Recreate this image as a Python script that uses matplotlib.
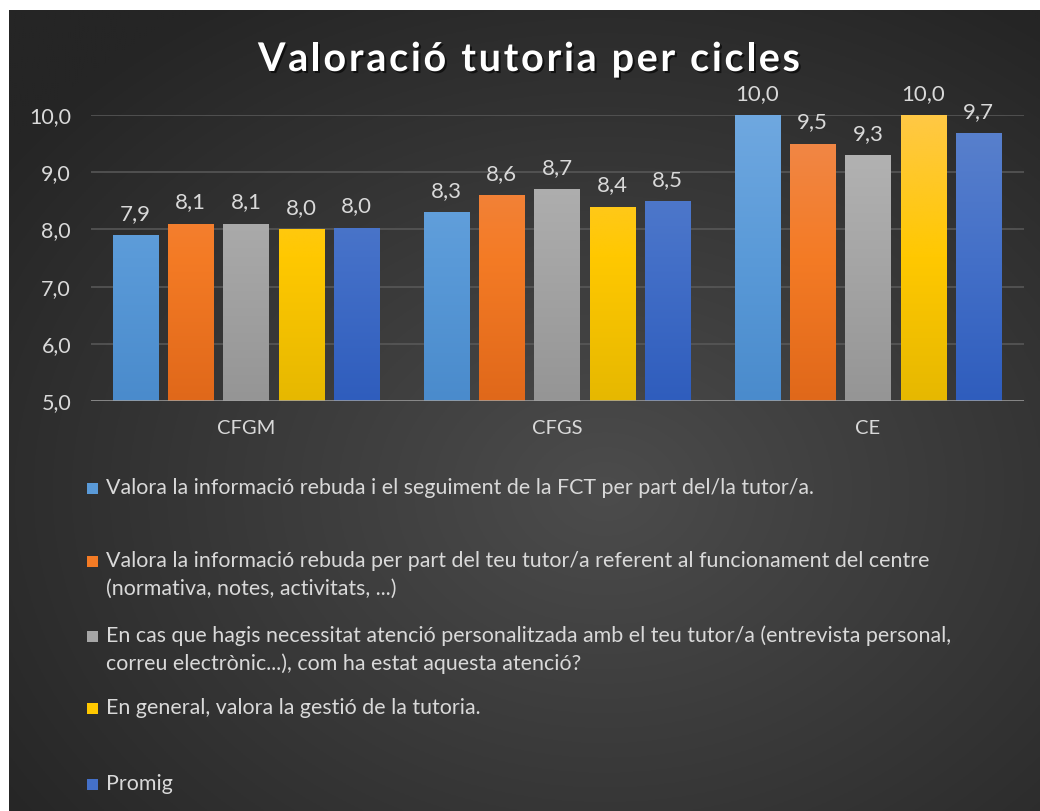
import numpy as np
import matplotlib
matplotlib.use("Agg")
import matplotlib.pyplot as plt
import matplotlib.patheffects as pe
from matplotlib.patches import Rectangle
from matplotlib.colors import LinearSegmentedColormap

# ---------------- data ----------------
categories = ["CFGM", "CFGS", "CE"]
series_names = [
    "Valora la informació rebuda i el seguiment de la FCT per part del/la tutor/a.",
    "Valora la informació rebuda per part del teu tutor/a referent al funcionament del centre\n(normativa, notes, activitats, ...)",
    "En cas que hagis necessitat atenció personalitzada amb el teu tutor/a (entrevista personal,\ncorreu electrònic...), com ha estat aquesta atenció?",
    "En general, valora la gestió de la tutoria.",
    "Promig",
]
info_fct = [7.9, 8.3, 10.0]
info_centre = [8.1, 8.6, 9.5]
atencio = [8.1, 8.7, 9.3]
gestio = [8.0, 8.4, 10.0]
promig = [8.03, 8.5, 9.68]
values = [info_fct, info_centre, atencio, gestio, promig]
yticks = [5, 6, 7, 8, 9, 10]
title = "Valoració tutoria per cicles"

# ---------------- style ----------------
grad_colors = [
    ("#6fa8e0", "#5a9ad8", "#4a8bcc"),
    ("#f0894d", "#f47b25", "#e0681a"),
    ("#b6b6b6", "#a6a6a6", "#959595"),
    ("#ffc845", "#ffc800", "#e6b800"),
    ("#5b82cd", "#4470c8", "#2f5dbd"),
]
txt_col = "#d9d9d9"
FONT = "Lato"

W, H = 1040, 811
fig = plt.figure(figsize=(W / 100, H / 100), dpi=100, facecolor="white")

def px(x, y):
    return x / W, 1 - y / H

# background with radial gradient
bg = fig.add_axes([9 / W, 0, (W - 9) / W, (H - 10) / H], zorder=-10)
bg.set_axis_off()
yy, xx = np.mgrid[0:400, 0:520]
cx, cy = 300, 240
r = np.sqrt(((xx - cx) / 520) ** 2 + ((yy - cy) / 400) ** 2)
r = np.clip(r / 0.72, 0, 1)
c0 = np.array([0x4c, 0x4c, 0x4c]) / 255
c1 = np.array([0x25, 0x25, 0x25]) / 255
img = c0[None, None, :] * (1 - r[..., None]) + c1[None, None, :] * r[..., None]
bg.imshow(img, aspect="auto", extent=[0, 1, 0, 1], origin="upper")
bg.set_xlim(0, 1); bg.set_ylim(0, 1)

# main axes
left, right, top, bottom = 90.5, 1023.5, 115, 401
ax = fig.add_axes([left / W, 1 - bottom / H, (right - left) / W, (bottom - top) / H])
ax.patch.set_alpha(0)
for s in ax.spines.values():
    s.set_visible(False)

n = len(values)
width = 0.145
pitch = 0.178
x = np.arange(len(categories))
for i, (vals, cols) in enumerate(zip(values, grad_colors)):
    offs = (i - (n - 1) / 2) * pitch
    bars = ax.bar(x + offs, np.array(vals) - 5, width=width, bottom=5,
                  color=cols[1], zorder=3, linewidth=0)
    cmap = LinearSegmentedColormap.from_list(f"g{i}", [cols[2], cols[1], cols[0]])
    for b, v in zip(bars, vals):
        bx, by = b.get_x(), b.get_y()
        bw, bh = b.get_width(), b.get_height()
        grad = np.linspace(1, 0, 256).reshape(-1, 1)
        im = ax.imshow(grad, cmap=cmap, aspect="auto",
                       extent=[bx, bx + bw, 5, 10], origin="upper", zorder=4,
                       vmin=0, vmax=1)
        im.set_clip_path(b)
        lab = f"{v:.1f}".replace(".", ",")
        ax.annotate(lab, (bx + bw / 2, by + bh), xytext=(0, 8),
                    textcoords="offset points", ha="center", va="bottom",
                    color=txt_col, fontsize=16, family=FONT, zorder=5)

ax.set_xlim(-0.5, len(categories) - 0.5)
ax.set_ylim(5, 10)
ax.set_yticks(yticks)
ax.set_yticklabels([f"{t:.1f}".replace(".", ",") for t in yticks],
                   color=txt_col, fontsize=15.5, family=FONT)
ax.set_xticks(x)
ax.set_xticklabels(categories, color=txt_col, fontsize=14.5, family=FONT)
ax.tick_params(axis="y", length=0, pad=14)
ax.tick_params(axis="x", length=0, pad=14)
for t in yticks[1:]:
    ax.axhline(t, color="#5a5a5a", lw=1.1, zorder=1)
ax.axhline(5, color="#a0a0a0", lw=1.8, zorder=6)

# title with letter spacing
renderer = fig.canvas.get_renderer()
tkw = dict(color="white", fontsize=28.5, fontweight="bold", family=FONT)
probe = fig.text(0, 0, title, **tkw)
full_w = probe.get_window_extent(renderer).width
probe.remove()
target_w = 542.0
track = (target_w - full_w) / (len(title) - 1)
x0 = 529 - target_w / 2
shadow = [pe.SimplePatchShadow(offset=(1.5, -1.5), shadow_rgbFace="black", alpha=0.6), pe.Normal()]
for k, ch in enumerate(title):
    if k == 0:
        pre_w = 0.0
    else:
        p = fig.text(0, 0, title[:k] + "|", **tkw)
        q = fig.text(0, 0, "|", **tkw)
        pre_w = p.get_window_extent(renderer).width - q.get_window_extent(renderer).width
        p.remove(); q.remove()
    if ch != " ":
        fig.text(*px(x0 + pre_w + k * track, 71), ch, ha="left", va="baseline",
                 path_effects=shadow, **tkw)

# legend (manual); baseline of first line of each entry
leg_base = [494, 567, 642, 714, 790]
line_h = 28
for name, cols, ly in zip(series_names, grad_colors, leg_base):
    fig.patches.append(Rectangle(px(87, ly), 11 / W, 11 / H,
                                 transform=fig.transFigure, facecolor=cols[1],
                                 edgecolor="none"))
    for j, line in enumerate(name.split("\n")):
        fig.text(*px(106, ly + j * line_h), line, ha="left", va="baseline",
                 color=txt_col, fontsize=15.4, family=FONT)

fig.savefig("out.png", dpi=100, facecolor="white")
